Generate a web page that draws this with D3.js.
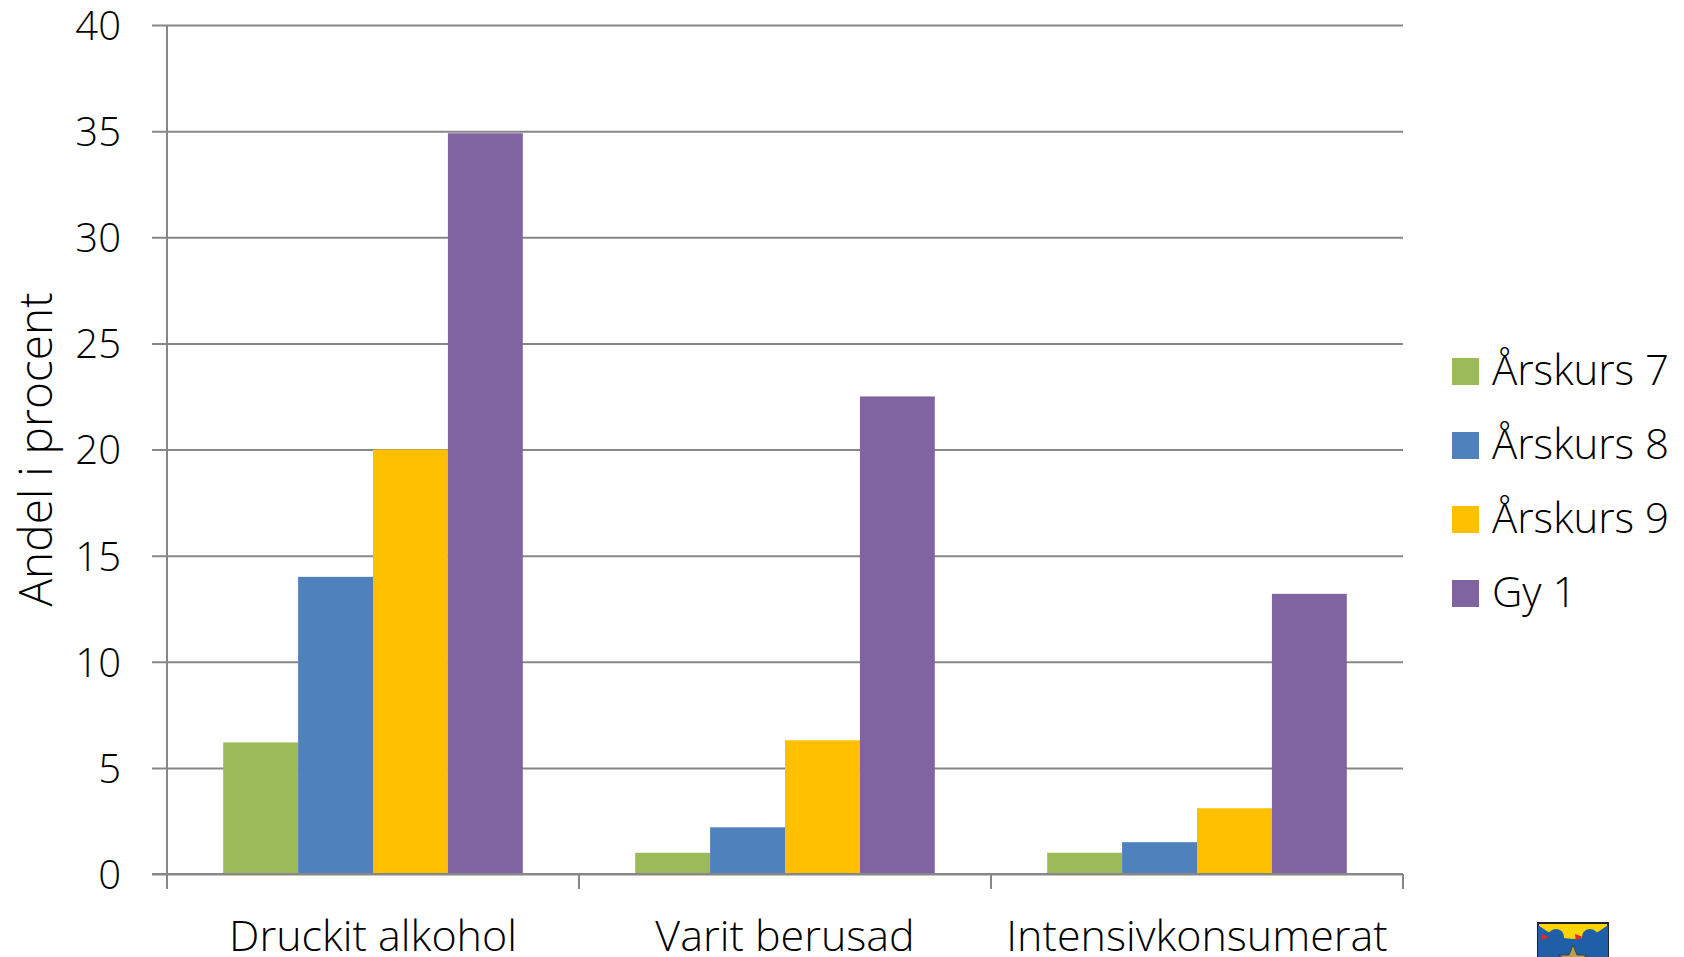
<!DOCTYPE html>
<html>
<head>
<meta charset="utf-8">
<script src="https://cdn.jsdelivr.net/npm/d3@7"></script>
<style>
  html, body { margin: 0; padding: 0; background: #fff; }
  svg text { font-family: 'Open Sans', 'Noto Sans', sans-serif; font-weight: 300; fill: #000; }
</style>
</head>
<body>
<svg id="chart" width="1684" height="957"></svg>
<script>
const categories = ['Druckit alkohol', 'Varit berusad', 'Intensivkonsumerat'];
const series = ['Årskurs 7', 'Årskurs 8', 'Årskurs 9', 'Gy 1'];
const arskurs7 = [6.2, 1.0, 1.0];
const arskurs8 = [14.0, 2.2, 1.5];
const arskurs9 = [20.0, 6.3, 3.1];
const gy1 = [34.9, 22.5, 13.2];
const yTicks = [0, 5, 10, 15, 20, 25, 30, 35, 40];
const colors = ['#9BBB59', '#4F81BD', '#FFC000', '#8064A2'];

const values = [arskurs7, arskurs8, arskurs9, gy1];

const MARGIN = { top: 25, left: 167, right: 281, bottom: 83 };
const W = 1684, H = 957;
const width = W - MARGIN.left - MARGIN.right;
const height = H - MARGIN.top - MARGIN.bottom;
const GRID = '#878787';

const svg = d3.select('#chart');
const inner = svg.append('g')
  .attr('transform', `translate(${MARGIN.left}, ${MARGIN.top})`);

const y = d3.scaleLinear().domain([0, 40]).range([height, 0]);
const x0 = d3.scaleBand().domain(categories).range([0, width]);
const x1 = d3.scaleBand().domain(series).range([0, x0.bandwidth()]).paddingOuter(0.75);

// gridlines + y labels
const yAxis = inner.append('g')
  .call(d3.axisLeft(y).tickValues(yTicks).tickSizeInner(-width).tickSizeOuter(0).tickPadding(46));
yAxis.select('.domain').remove();
yAxis.selectAll('line').attr('x1', -15).attr('stroke', GRID).attr('stroke-width', 2);
yAxis.selectAll('text').attr('font-size', 40).attr('dy', '0.36em');

// vertical axis line
inner.append('line')
  .attr('x1', 0).attr('x2', 0)
  .attr('y1', 0).attr('y2', height + 15)
  .attr('stroke', GRID).attr('stroke-width', 2);

// bars
const groups = inner.append('g').attr('class', 'bars')
  .selectAll('g')
  .data(categories)
  .join('g')
  .attr('transform', d => `translate(${x0(d)}, 0)`);

groups.selectAll('rect')
  .data((c, ci) => series.map((s, si) => ({ s, si, v: values[si][ci] })))
  .join('rect')
  .attr('x', d => x1(d.s))
  .attr('y', d => y(d.v))
  .attr('width', x1.bandwidth())
  .attr('height', d => height - y(d.v))
  .attr('fill', d => colors[d.si]);

// x axis
const xAxis = inner.append('g')
  .attr('transform', `translate(0, ${height})`);
xAxis.append('line')
  .attr('x1', -15).attr('x2', width)
  .attr('stroke', GRID).attr('stroke-width', 2);
xAxis.selectAll('line.tick')
  .data(d3.range(categories.length + 1))
  .join('line')
  .attr('class', 'tick')
  .attr('x1', i => i * x0.step()).attr('x2', i => i * x0.step())
  .attr('y1', 0).attr('y2', 15)
  .attr('stroke', GRID).attr('stroke-width', 2);
xAxis.selectAll('text')
  .data(categories)
  .join('text')
  .attr('x', d => x0(d) + x0.bandwidth() / 2)
  .attr('y', 77)
  .attr('text-anchor', 'middle')
  .attr('font-size', 43)
  .text(d => d);

// y axis title
svg.append('text')
  .attr('transform', `translate(52, ${MARGIN.top + height / 2}) rotate(-90)`)
  .attr('text-anchor', 'middle')
  .attr('font-size', 46)
  .text('Andel i procent');

// legend
const legend = svg.append('g')
  .attr('transform', 'translate(1452, 358)');
const item = legend.selectAll('g')
  .data(series)
  .join('g')
  .attr('transform', (d, i) => `translate(0, ${i * 74})`);
item.append('rect')
  .attr('width', 27).attr('height', 27)
  .attr('fill', (d, i) => colors[i]);
item.append('text')
  .attr('x', 40).attr('y', 27)
  .attr('font-size', 42)
  .text(d => d);

// small coat of arms in the corner
const arms = svg.append('g').attr('transform', 'translate(1538, 923)');
arms.append('path')
  .attr('d', 'M0,0 H70 V40 Q70,60 35,70 Q0,60 0,40 Z')
  .attr('fill', '#FFD400').attr('stroke', '#222').attr('stroke-width', 2);
arms.append('path')
  .attr('d', 'M0,2 Q35,30 70,2 V40 Q70,60 35,70 Q0,60 0,40 Z')
  .attr('fill', '#1F5FA8');
[[18, 14], [52, 14]].forEach(([cx, cy]) => {
  arms.append('circle').attr('cx', cx).attr('cy', cy).attr('r', 8).attr('fill', '#1F5FA8');
  arms.append('path')
    .attr('d', `M${cx - 7},${cy} l-8,-3 l1,6 Z`)
    .attr('fill', '#E8262A');
});
arms.append('path')
  .attr('d', 'M35,22 l4,10 l10,0 l-8,6 l3,10 l-9,-6 l-9,6 l3,-10 l-8,-6 l10,0 Z')
  .attr('fill', '#B8A04A').attr('stroke', '#333').attr('stroke-width', 0.8);
</script>
</body>
</html>
